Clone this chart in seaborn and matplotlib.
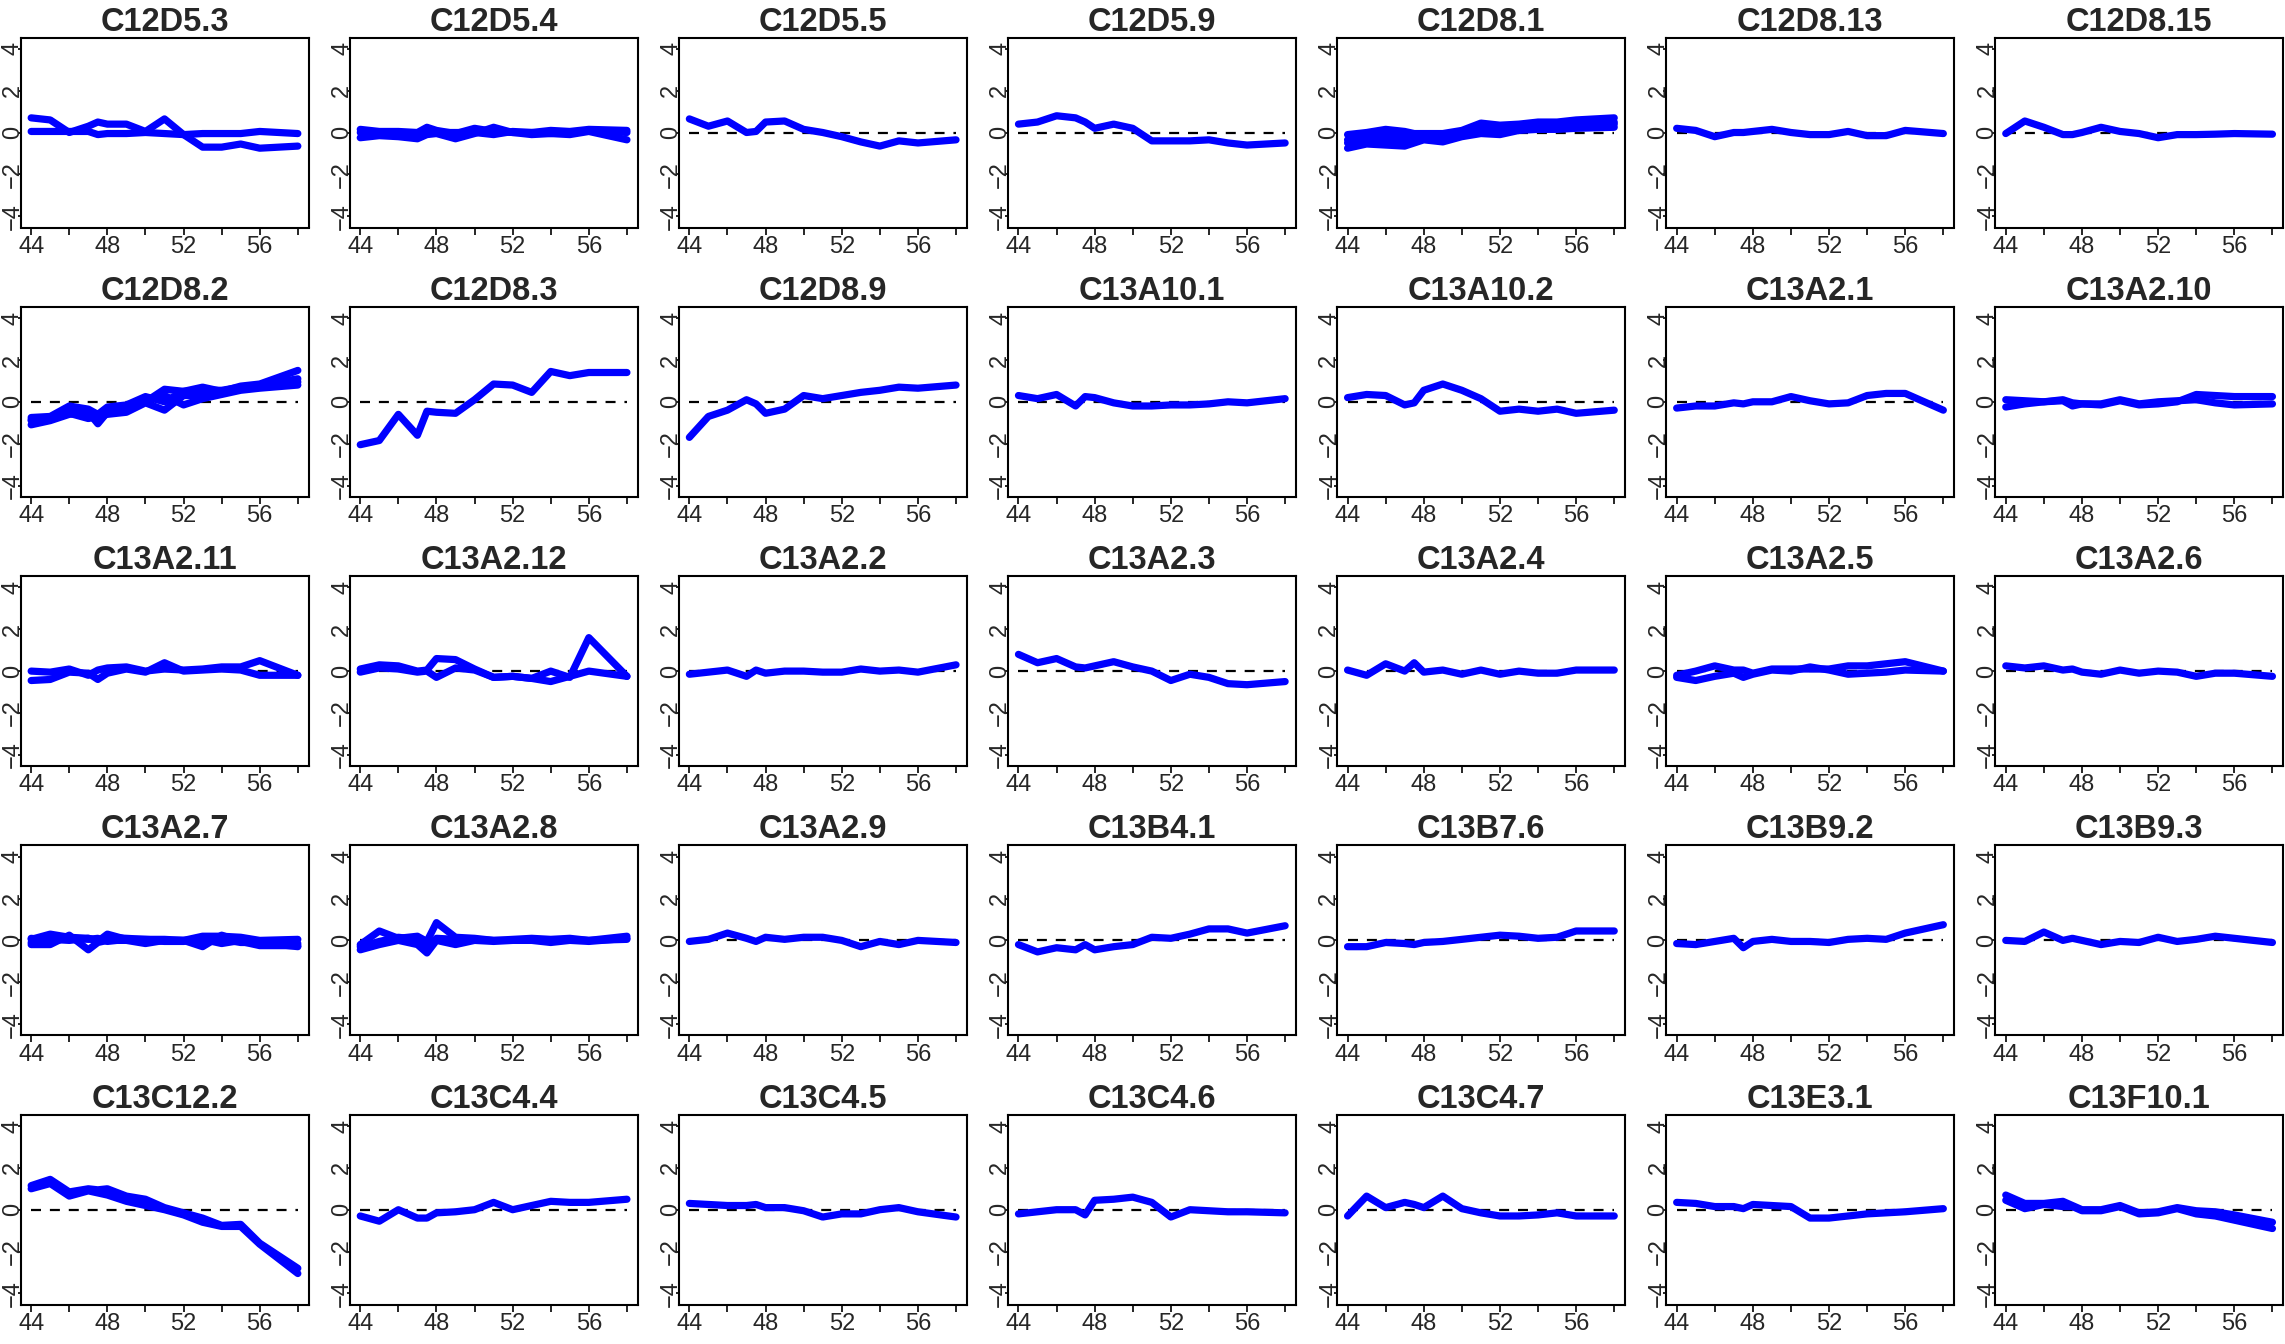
import matplotlib
matplotlib.use("Agg")
import pandas as pd
import matplotlib.pyplot as plt
import seaborn as sns

# sampling weeks (x axis)
weeks = [44, 45, 46, 47, 47.5, 48, 49, 50, 51, 52, 53, 54, 55, 56, 58]

# one list per replicate probe
C12D5_3 = [[0.7, 0.6, 0.0, 0.3, 0.5, 0.4, 0.4, 0.05, 0.65, -0.1, -0.7, -0.7, -0.55, -0.75, -0.65],
           [0.05, 0.05, 0.05, 0.05, -0.1, -0.05, -0.05, 0.0, -0.05, -0.1, -0.05, -0.05, -0.05, 0.05, -0.05]]
C12D5_4 = [[0.15, 0.05, 0.05, 0.0, 0.25, 0.1, -0.05, 0.2, 0.05, 0.0, 0.0, 0.1, 0.05, 0.15, 0.1],
           [-0.25, -0.15, -0.2, -0.3, -0.1, -0.05, -0.3, -0.05, 0.25, 0.0, -0.1, -0.05, -0.1, 0.05, -0.35],
           [0.0, 0.0, -0.05, -0.1, 0.0, 0.0, 0.0, 0.0, -0.1, 0.05, 0.0, -0.05, 0.0, 0.1, 0.0]]
C12D5_5 = [[0.65, 0.3, 0.55, 0.0, 0.05, 0.5, 0.55, 0.15, 0.0, -0.2, -0.45, -0.65, -0.4, -0.5, -0.35]]
C12D5_9 = [[0.4, 0.5, 0.8, 0.7, 0.5, 0.2, 0.4, 0.2, -0.4, -0.4, -0.4, -0.35, -0.5, -0.6, -0.5]]
C12D8_1 = [[-0.1, 0.0, 0.15, 0.05, -0.05, -0.05, -0.05, 0.1, 0.45, 0.35, 0.4, 0.5, 0.5, 0.6, 0.7],
           [-0.35, -0.2, -0.1, -0.15, -0.2, -0.15, -0.25, 0.0, 0.2, 0.2, 0.25, 0.3, 0.35, 0.45, 0.5],
           [-0.75, -0.55, -0.6, -0.65, -0.5, -0.35, -0.45, -0.2, -0.05, -0.1, 0.1, 0.15, 0.15, 0.2, 0.25],
           [-0.5, -0.4, -0.35, -0.4, -0.3, -0.25, -0.3, -0.1, 0.1, 0.05, 0.15, 0.2, 0.25, 0.35, 0.4]]
C12D8_13 = [[0.2, 0.1, -0.2, 0.0, 0.0, 0.05, 0.15, 0.0, -0.1, -0.1, 0.05, -0.15, -0.15, 0.1, -0.05]]
C12D8_15 = [[-0.05, 0.55, 0.25, -0.1, -0.1, 0.0, 0.25, 0.05, -0.05, -0.25, -0.1, -0.1, -0.08, -0.05, -0.08]]

C12D8_2 = [[-0.75, -0.7, -0.2, -0.35, -0.6, -0.25, -0.15, 0.25, 0.0, 0.5, 0.7, 0.5, 0.75, 0.85, 1.5],
           [-1.1, -0.9, -0.6, -0.5, -1.05, -0.5, -0.35, 0.0, 0.6, 0.5, 0.55, 0.55, 0.7, 0.8, 1.1],
           [-0.9, -0.8, -0.55, -0.8, -0.7, -0.6, -0.5, -0.05, -0.4, 0.3, 0.3, 0.45, 0.6, 0.7, 0.95],
           [-0.85, -0.75, -0.45, -0.6, -0.85, -0.55, -0.45, 0.1, 0.3, -0.15, 0.15, 0.35, 0.55, 0.65, 0.8]]
C12D8_3 = [[-2.05, -1.85, -0.6, -1.6, -0.45, -0.5, -0.55, 0.1, 0.85, 0.8, 0.45, 1.45, 1.25, 1.4, 1.4]]
C12D8_9 = [[-1.7, -0.7, -0.4, 0.1, -0.1, -0.55, -0.35, 0.3, 0.15, 0.3, 0.45, 0.55, 0.7, 0.65, 0.8]]
C13A10_1 = [[0.3, 0.15, 0.35, -0.2, 0.25, 0.2, -0.05, -0.2, -0.2, -0.15, -0.15, -0.1, 0.0, -0.05, 0.15]]
C13A10_2 = [[0.2, 0.35, 0.3, -0.15, -0.05, 0.55, 0.85, 0.55, 0.15, -0.45, -0.35, -0.45, -0.35, -0.55, -0.4]]
C13A2_1 = [[-0.3, -0.2, -0.2, -0.05, -0.1, 0.0, 0.0, 0.25, 0.05, -0.1, -0.05, 0.3, 0.4, 0.4, -0.4]]
C13A2_10 = [[0.1, 0.05, 0.0, 0.05, -0.2, -0.1, -0.15, 0.05, -0.15, -0.1, 0.0, 0.35, 0.3, 0.25, 0.25],
            [-0.25, -0.1, 0.0, 0.1, -0.05, -0.1, -0.1, 0.1, -0.1, 0.0, 0.05, 0.1, -0.05, -0.15, -0.1]]

C13A2_11 = [[0.0, -0.05, 0.1, -0.2, 0.05, 0.15, 0.2, 0.0, 0.1, 0.05, 0.1, 0.2, 0.2, 0.5, -0.2],
            [-0.45, -0.4, -0.05, -0.1, -0.4, -0.1, 0.1, -0.05, 0.4, 0.0, 0.05, 0.1, 0.05, -0.2, -0.2]]
C13A2_12 = [[0.1, 0.3, 0.25, 0.0, 0.05, 0.6, 0.55, 0.1, -0.3, -0.25, -0.35, 0.0, -0.3, 1.6, -0.25],
            [-0.05, 0.15, 0.1, -0.05, 0.0, -0.3, 0.15, 0.05, -0.3, -0.25, -0.35, -0.5, -0.25, 0.0, -0.25]]
C13A2_2 = [[-0.15, -0.05, 0.05, -0.25, 0.05, -0.1, 0.0, 0.0, -0.05, -0.05, 0.1, 0.0, 0.05, -0.05, 0.3]]
C13A2_3 = [[0.8, 0.4, 0.6, 0.2, 0.15, 0.25, 0.45, 0.2, 0.0, -0.45, -0.15, -0.3, -0.6, -0.65, -0.5]]
C13A2_4 = [[0.05, -0.2, 0.35, 0.0, 0.4, -0.05, 0.05, -0.15, 0.05, -0.15, 0.0, -0.1, -0.1, 0.05, 0.05]]
C13A2_5 = [[-0.2, 0.0, 0.25, 0.05, 0.05, -0.1, 0.1, 0.1, 0.1, 0.1, 0.25, 0.25, 0.35, 0.45, 0.0],
           [-0.3, -0.45, -0.25, -0.1, -0.3, -0.15, 0.05, 0.0, 0.2, 0.05, -0.15, -0.1, -0.05, 0.05, 0.0]]
C13A2_6 = [[0.25, 0.15, 0.25, 0.05, 0.1, -0.05, -0.15, 0.05, -0.1, 0.0, -0.05, -0.25, -0.1, -0.1, -0.25]]

C13A2_7 = [[0.05, 0.3, 0.15, 0.1, -0.05, 0.3, 0.05, 0.05, 0.0, 0.0, 0.2, 0.2, 0.15, 0.0, 0.05],
           [-0.2, -0.2, 0.25, -0.45, -0.1, 0.0, 0.0, -0.15, 0.0, 0.0, -0.3, 0.25, -0.05, -0.25, -0.25],
           [0.1, 0.0, 0.1, 0.05, 0.1, -0.05, 0.05, 0.0, -0.05, -0.05, 0.05, -0.15, 0.0, -0.2, -0.15],
           [-0.1, 0.05, 0.0, 0.1, 0.0, 0.15, 0.1, 0.05, 0.05, 0.0, 0.1, 0.05, -0.1, -0.1, -0.3]]
C13A2_8 = [[-0.2, 0.45, 0.1, 0.2, -0.05, 0.85, 0.15, 0.1, 0.0, 0.0, 0.05, 0.0, 0.05, 0.0, 0.2],
           [-0.45, -0.2, 0.0, -0.2, -0.6, 0.0, -0.2, 0.0, -0.05, 0.0, 0.0, -0.1, 0.0, -0.05, 0.1],
           [-0.3, -0.05, 0.15, 0.05, -0.35, 0.1, 0.05, 0.05, 0.0, 0.05, 0.1, 0.05, 0.1, 0.0, 0.05]]
C13A2_9 = [[-0.05, 0.05, 0.35, 0.1, -0.05, 0.15, 0.05, 0.15, 0.15, 0.0, -0.3, -0.05, -0.2, 0.0, -0.1]]
C13B4_1 = [[-0.2, -0.55, -0.35, -0.45, -0.2, -0.45, -0.3, -0.2, 0.15, 0.1, 0.3, 0.55, 0.55, 0.35, 0.7]]
C13B7_6 = [[-0.3, -0.3, -0.1, -0.15, -0.2, -0.1, -0.05, 0.05, 0.15, 0.25, 0.2, 0.1, 0.15, 0.45, 0.45]]
C13B9_2 = [[-0.15, -0.2, -0.05, 0.1, -0.35, -0.05, 0.05, -0.05, -0.05, -0.1, 0.05, 0.1, 0.05, 0.35, 0.75]]
C13B9_3 = [[0.0, -0.05, 0.4, 0.0, 0.1, 0.0, -0.2, -0.05, -0.1, 0.15, -0.05, 0.05, 0.2, 0.1, -0.1]]

C13C12_2 = [[1.15, 1.45, 0.85, 1.0, 0.95, 1.0, 0.65, 0.5, 0.1, -0.15, -0.4, -0.75, -0.7, -1.6, -2.8],
            [1.0, 1.25, 0.65, 0.9, 0.8, 0.7, 0.4, 0.2, 0.0, -0.25, -0.6, -0.8, -0.8, -1.65, -3.05]]
C13C4_4 = [[-0.3, -0.55, 0.0, -0.4, -0.4, -0.15, -0.1, 0.0, 0.35, 0.0, 0.2, 0.4, 0.35, 0.35, 0.5]]
C13C4_5 = [[0.3, 0.25, 0.2, 0.2, 0.25, 0.1, 0.1, -0.05, -0.35, -0.2, -0.2, 0.0, 0.1, -0.1, -0.35]]
C13C4_6 = [[-0.2, -0.1, 0.0, 0.0, -0.25, 0.45, 0.5, 0.6, 0.35, -0.35, 0.0, -0.05, -0.1, -0.1, -0.15]]
C13C4_7 = [[-0.3, 0.65, 0.1, 0.35, 0.25, 0.1, 0.65, 0.05, -0.15, -0.3, -0.3, -0.25, -0.15, -0.3, -0.3]]
C13E3_1 = [[0.35, 0.3, 0.15, 0.15, 0.05, 0.25, 0.2, 0.15, -0.4, -0.4, -0.3, -0.2, -0.15, -0.1, 0.05]]
C13F10_1 = [[0.7, 0.3, 0.3, 0.4, 0.2, 0.0, 0.0, 0.2, -0.15, -0.1, 0.1, -0.05, -0.1, -0.25, -0.6],
            [0.45, 0.05, 0.25, 0.15, 0.15, -0.05, -0.05, 0.15, -0.2, -0.15, 0.05, -0.2, -0.3, -0.5, -0.9]]

genes = ["C12D5.3", "C12D5.4", "C12D5.5", "C12D5.9", "C12D8.1", "C12D8.13", "C12D8.15",
         "C12D8.2", "C12D8.3", "C12D8.9", "C13A10.1", "C13A10.2", "C13A2.1", "C13A2.10",
         "C13A2.11", "C13A2.12", "C13A2.2", "C13A2.3", "C13A2.4", "C13A2.5", "C13A2.6",
         "C13A2.7", "C13A2.8", "C13A2.9", "C13B4.1", "C13B7.6", "C13B9.2", "C13B9.3",
         "C13C12.2", "C13C4.4", "C13C4.5", "C13C4.6", "C13C4.7", "C13E3.1", "C13F10.1"]
profiles = [C12D5_3, C12D5_4, C12D5_5, C12D5_9, C12D8_1, C12D8_13, C12D8_15,
            C12D8_2, C12D8_3, C12D8_9, C13A10_1, C13A10_2, C13A2_1, C13A2_10,
            C13A2_11, C13A2_12, C13A2_2, C13A2_3, C13A2_4, C13A2_5, C13A2_6,
            C13A2_7, C13A2_8, C13A2_9, C13B4_1, C13B7_6, C13B9_2, C13B9_3,
            C13C12_2, C13C4_4, C13C4_5, C13C4_6, C13C4_7, C13E3_1, C13F10_1]

xticks = [44, 46, 48, 50, 52, 54, 56, 58]
xtick_labels = ["44", "", "48", "", "52", "", "56", ""]
yticks = [-4, -2, 0, 2, 4]

sns.set_style("ticks")
plt.rcParams["font.family"] = ["Liberation Sans", "DejaVu Sans"]

W, H = 2285, 1344
fig = plt.figure(figsize=(W / 100, H / 100), dpi=100)

for k, (gene, reps) in enumerate(zip(genes, profiles)):
    row, col = divmod(k, 7)
    left = (20.5 + 329.1 * col) / W
    bottom = 1 - (37.5 + 269.3 * row + 190) / H
    ax = fig.add_axes([left, bottom, 288 / W, 190 / H])

    df = pd.DataFrame([(r, w, v) for r, rep in enumerate(reps) for w, v in zip(weeks, rep)],
                      columns=["rep", "week", "value"])

    # zero reference line under the profiles
    ax.hlines(0, weeks[0], weeks[-1], colors="black", lw=1.6, linestyles=(0, (4.5, 4)))
    sns.lineplot(data=df, x="week", y="value", units="rep", estimator=None,
                 color="blue", lw=5.2, solid_capstyle="round", solid_joinstyle="round",
                 legend=False, ax=ax)

    ax.set_xlim(43.44, 58.56)
    ax.set_ylim(-4.54, 4.54)
    ax.set_xticks(xticks)
    ax.set_xticklabels(xtick_labels)
    ax.set_yticks(yticks)
    ax.set_xlabel("")
    ax.set_ylabel("")
    ax.tick_params(axis="x", length=5, width=1.4, pad=1, labelsize=17)
    ax.tick_params(axis="y", length=2.5, width=1.4, pad=-5, labelsize=17, labelrotation=90)
    for lab in ax.get_yticklabels():
        lab.set_verticalalignment("center")
    for s in ax.spines.values():
        s.set_visible(True)
        s.set_color("black")
        s.set_linewidth(1.5)
    ax.set_title(gene, fontsize=23.5, fontweight="bold", pad=3)

fig.savefig("out.png", dpi=100)
